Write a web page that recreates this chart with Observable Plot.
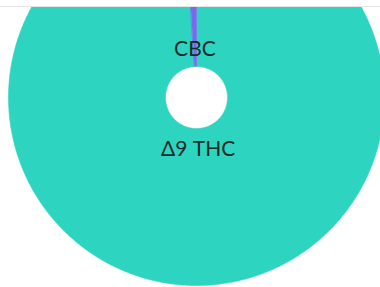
<!DOCTYPE html>
<html>
<head>
<meta charset="utf-8">
<script src="https://cdn.jsdelivr.net/npm/d3@7"></script>
<script src="https://cdn.jsdelivr.net/npm/@observablehq/plot@0.6"></script>
<style>
  html, body { margin: 0; padding: 0; background: #fff; }
  #chart { margin-top: 6px; border-top: 1px solid #e6e6e6; width: 380px; overflow: hidden; }
  #chart svg { display: block; overflow: hidden; }
</style>
</head>
<body>
<div id="chart"></div>
<script>
// Data
const cannabinoids = ["Δ9 THC", "CBC"];
const shares = [99, 1];
const sliceColors = ["#2dd4bf", "#7b68ee"];

// Geometry (layout constants)
const outerR = 188, innerR = 31, labelR = 50;

const rows = cannabinoids.map((name, i) => ({name, value: shares[i]}));
const arcs = d3.pie().sort(null).value(d => d.value)(rows);

// Build slice outlines (outer arc forward, inner arc backward)
const slicePts = [];
for (const a of arcs) {
  const n = Math.max(8, Math.ceil((a.endAngle - a.startAngle) * 120));
  for (let k = 0; k <= n; k++) {
    const t = a.startAngle + (a.endAngle - a.startAngle) * k / n;
    slicePts.push({name: a.data.name, x: outerR * Math.sin(t), y: outerR * Math.cos(t)});
  }
  for (let k = n; k >= 0; k--) {
    const t = a.startAngle + (a.endAngle - a.startAngle) * k / n;
    slicePts.push({name: a.data.name, x: innerR * Math.sin(t), y: innerR * Math.cos(t)});
  }
}
const labels = arcs.map(a => {
  const m = (a.startAngle + a.endAngle) / 2;
  return {name: a.data.name, x: labelR * Math.sin(m), y: labelR * Math.cos(m)};
});

const chart = Plot.plot({
  width: 380,
  height: 280,
  margin: 0,
  x: {domain: [-196, 184], axis: null},
  y: {domain: [-190, 90], axis: null},
  color: {domain: cannabinoids, range: sliceColors},
  style: {background: "#fff", overflow: "hidden"},
  marks: [
    Plot.line(slicePts, {x: "x", y: "y", z: "name", fill: "name", stroke: "name", strokeWidth: 0.6, curve: "linear-closed"}),
    Plot.text(labels, {x: "x", y: "y", text: "name", fill: "#1c2a2a", fontSize: 21, fontFamily: "Lato, sans-serif", textAnchor: "middle", dy: 1.5})
  ]
});
document.getElementById("chart").appendChild(chart);
</script>
</body>
</html>
